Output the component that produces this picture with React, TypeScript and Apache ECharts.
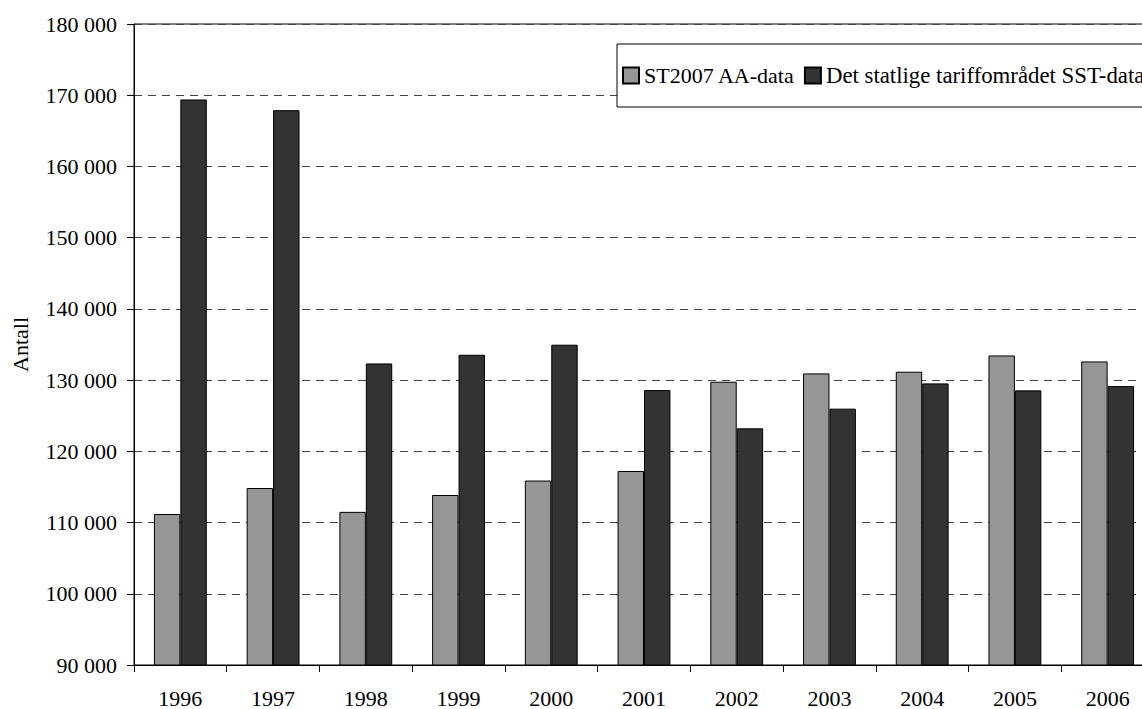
import React, { useEffect, useRef } from "react";
import * as echarts from "echarts";

const categories = ["1996", "1997", "1998", "1999", "2000", "2001", "2002", "2003", "2004", "2005", "2006"];
const seriesNames = ["ST2007 AA-data", "Det statlige tariffområdet SST-data"];
const aaData = [111200, 114850, 111500, 113870, 115900, 117240, 129770, 130940, 131180, 133460, 132620];
const sstData = [169400, 167900, 132340, 133560, 134970, 128600, 123230, 125990, 129540, 128560, 129160];
const yAxisName = "Antall";

const FONT = "'Liberation Serif', 'Times New Roman', serif";

export default function App() {
  const ref = useRef<HTMLDivElement>(null);
  useEffect(() => {
    if (!ref.current) return;
    const chart = echarts.init(ref.current, undefined, { renderer: "svg" });
    chart.setOption({
      animation: false,
      backgroundColor: "#ffffff",
      textStyle: { fontFamily: FONT, color: "#000" },
      grid: {
        left: 134,
        top: 24,
        bottom: 42,
        right: 246,
        show: true,
        borderColor: "#000",
        borderWidth: 1,
        backgroundColor: "transparent",
      },
      legend: {
        orient: "horizontal",
        left: 617,
        top: 44,
        padding: [20, 30, 20, 5],
        itemWidth: 16,
        itemHeight: 16,
        itemGap: 9,
        icon: "rect",
        borderColor: "#000",
        borderWidth: 1,
        backgroundColor: "#fff",
        textStyle: { fontFamily: FONT, fontSize: 22, color: "#000" },
        data: [
          { name: seriesNames[0] },
          { name: seriesNames[1], textStyle: { fontSize: 22.8 } },
        ],
      },
      xAxis: {
        type: "category",
        data: categories,
        axisLine: { show: true, lineStyle: { color: "#000", width: 1 } },
        axisTick: { show: true, alignWithLabel: false, length: 7, lineStyle: { color: "#000" } },
        axisLabel: { fontFamily: FONT, fontSize: 22, color: "#000", margin: 22 },
        splitLine: { show: false },
      },
      yAxis: {
        type: "value",
        min: 90000,
        max: 180000,
        interval: 10000,
        name: yAxisName,
        nameLocation: "middle",
        nameGap: 103,
        nameRotate: 90,
        nameTextStyle: { fontFamily: FONT, fontSize: 22, color: "#000" },
        axisLine: { show: true, lineStyle: { color: "#000", width: 1 } },
        axisTick: { show: true, inside: false, length: 7, lineStyle: { color: "#000" } },
        axisLabel: {
          fontFamily: FONT,
          fontSize: 22,
          color: "#000",
          margin: 17,
          formatter: (v: number) => String(v).replace(/\B(?=(\d{3})+(?!\d))/g, " "),
        },
        splitLine: { show: true, lineStyle: { color: "#444", type: [8, 6], width: 1 } },
      },
      series: [
        {
          name: seriesNames[0],
          type: "bar",
          data: aaData,
          barGap: "0%",
          barCategoryGap: "43%",
          itemStyle: { color: "#969696", borderColor: "#000", borderWidth: 1 },
        },
        {
          name: seriesNames[1],
          type: "bar",
          data: sstData,
          barGap: "0%",
          barCategoryGap: "43%",
          itemStyle: { color: "#333333", borderColor: "#000", borderWidth: 1 },
        },
      ],
    });
    return () => chart.dispose();
  }, []);
  return (
    <div
      style={{
        position: "fixed",
        left: 0,
        top: 0,
        width: 1142,
        height: 709,
        overflow: "hidden",
        background: "#fff",
      }}
    >
      <div ref={ref} style={{ width: 1400, height: 709 }} />
    </div>
  );
}
